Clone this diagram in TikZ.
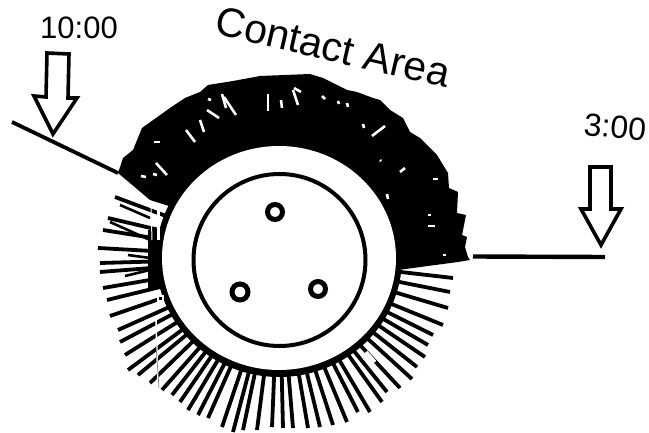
\documentclass[tikz,border=0pt]{standalone}
\usepackage{fontspec}
\setmainfont{Liberation Sans}
\usetikzlibrary{calc}
\tikzset{
  bristle/.style={line width=3.8pt,line cap=butt,black},
  speck/.style={white,line width=2.6pt,line cap=butt},
  hollowarrow/.style={draw=black,line width=3.6pt,fill=white,line join=miter},
  leader/.style={draw=black,line width=3.8pt},
  clock/.style={font=\fontsize{31}{31}\selectfont,inner sep=0pt,anchor=center},
}
\begin{document}
\begin{tikzpicture}[x=1pt,y=-1pt]
\useasboundingbox (0,0) rectangle (649,433);
\coordinate (C) at (279,258);
% bristles (outer ends)
\foreach \ex/\ey in {453/278,450/292,448/308,443/325,433/335,428/345,425/357,417/367,412/379,400/388,387/392,382/402,370/412,358/412,347/422,333/425,320/427,308/428,293/428,283/428,272/427,257/430,243/430,233/432,222/427,208/418,198/415,188/410,180/402,172/395,162/390,150/383,138/375,128/370,125/355,120/342,118/330,110/316,107/300,103/288,100/272,100/263,98/248,103/230,108/218,115/197}{
  \draw[bristle] ($(C)!110pt!(\ex,\ey)$) -- (\ex,\ey);
}
% extra dashes on the left side
\draw[bristle,line width=2.6pt] (110,222) -- (150,240);
\draw[bristle,line width=2.6pt] (120,205) -- (150,218);
\draw[bristle,line width=2.6pt] (128,255) -- (150,258);
\draw[bristle,line width=2.6pt] (125,276) -- (150,270);
% gap at the start of one bristle
\draw[white,line width=3.5pt] (366,352) -- (375,362);
% contact area
\fill[black] (118,173) -- (123,158) -- (133,150) -- (142,128) -- (170,108) -- (185,98) -- (200,92) -- (208,85) -- (233,81) -- (260,76) -- (310,74) -- (323,78) -- (333,83) -- (347,90) -- (357,92) -- (373,98) -- (380,100) -- (390,110) -- (403,118) -- (410,132) -- (420,138) -- (437,155) -- (448,173) -- (449,188) -- (458,192) -- (457,213) -- (466,215) -- (462,235) -- (467,237) -- (465,247) -- (468,257) -- (470,260) -- (458,262) -- (398,270) -- (392,262) -- (172,207) -- (150,200) -- cycle;
% base ring and thick left side
\fill[black] (C) ellipse[x radius=123,y radius=119];
\fill[black] (172,230) rectangle (148,288);
% white ring and hub
\fill[white] (C) ellipse[x radius=117,y radius=112];
\draw[black,line width=4pt,fill=white] (279.5,260) circle[radius=86];
\draw[black,line width=5pt] (275,212) circle[radius=7.5] (240,292) circle[radius=8] (318,289) circle[radius=7.5];
% specks in the black band
\foreach \ax/\ay/\bx/\by in {154/142/160/142, 141/176/146/177, 153/174/157/175, 156/163/167/175, 186/130/195/142, 200/120/204/132, 208/99/211/100, 207/110/219/118, 222/94/226/108, 224/97/236/115, 268/94/268/111, 281/100/282/108, 293/90/298/105, 294/88/301/92, 322/96/325/99, 338/101/339/104, 347/103/348/107, 363/124/364/128, 372/136/385/126, 380/160/381/161, 400/172/405/168, 433/179/438/179, 387/194/388/199, 428/215/431/215, 428/226/435/226, 443/255/446/255}{
  \draw[speck] (\ax,\ay) -- (\bx,\by);
}
% scratches
\draw[white,line width=1pt] (151,206) -- (152,240);
\draw[white,line width=3pt] (158,210) -- (158,222);
\draw[white,line width=3pt] (158,226) -- (158,240);
\draw[white,line width=1.6pt] (156,320) -- (158,388);
\draw[gray,line width=0.7pt] (156,345) -- (159,388);
\draw[white,line width=2.4pt] (158,296) rectangle (163,301);
% leaders
\coordinate (L1) at (12,122);
\coordinate (L1e) at (118,173);
\coordinate (R1) at (473,256.5);
\coordinate (R1e) at (605,257);
\draw[leader] (L1) -- (L1e);
\draw[leader,line width=4.4pt] (R1) -- (R1e);
% hollow arrows
\draw[hollowarrow] (47,53) -- (69,54) -- (68,98) -- (77,98) -- (53,134) -- (34,96) -- (46,97) -- cycle;
\draw[hollowarrow] (590,167) -- (611,167) -- (611,209) -- (621,209) -- (601,245) -- (581,209) -- (590,209) -- cycle;
% labels
\node[clock] (t10) at (79,28) {10:00};
\node[clock,rotate=-5,font=\fontsize{32}{32}\selectfont] (t3) at (615,127) {3:00};
\node[inner sep=0pt,rotate=-13,font=\fontsize{41}{41}\selectfont] (ca) at (333,47) {Contact Area};
\end{tikzpicture}
\end{document}
